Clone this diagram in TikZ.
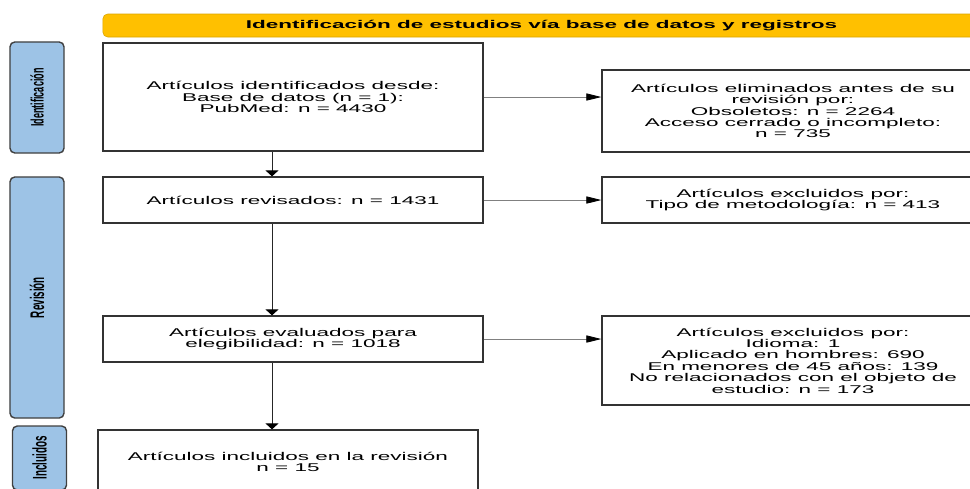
\documentclass[tikz,border=0pt]{standalone}
\usepackage{fontspec}
\setmainfont[FakeStretch=2]{Liberation Sans}
\newfontfamily\sidefont{Liberation Sans}
\usetikzlibrary{arrows.meta}
\definecolor{titleyellow}{HTML}{FFC000}
\definecolor{titleedge}{HTML}{D9A400}
\definecolor{sideblue}{HTML}{9DC3E6}
\tikzstyle{stagebox}=[draw=black!80,line width=0.9pt,fill=white,inner sep=2pt,align=center,font=\fontsize{8}{8.1}\selectfont]
\tikzstyle{sidebox}=[draw=black!75,line width=1pt,fill=sideblue,rounded corners=0.12cm,rotate=90,minimum height=1.35cm,inner sep=0pt]
\tikzstyle{titlebar}=[draw=titleedge,fill=titleyellow,rounded corners=0.12cm,minimum width=21.925cm,minimum height=0.575cm,inner sep=0pt,font=\bfseries\fontsize{8}{8}\selectfont]
\tikzstyle{hedge}=[draw=black!50,line width=0.6pt,-{Triangle[length=0.375cm,width=0.18cm,color=black]}]
\tikzstyle{vedge}=[draw=black!85,line width=0.6pt,-{Triangle[length=0.15cm,width=0.325cm,color=black]}]
\newcommand{\sidetext}[2]{\scalebox{1}[2]{\sidefont\bfseries\fontsize{#1}{#1}\selectfont #2}}

\begin{document}
\begin{tikzpicture}[x=0.025cm,y=-0.025cm]

    \useasboundingbox (0,0) rectangle (970,488);
    \clip (0,0) rectangle (970,488);

    \node[titlebar] (title) at (541.5,25.5) {Identificación de estudios vía base de datos y registros};

    % stage labels on the left
    \node[sidebox, minimum width=2.775cm] (ident) at (37,97.5) {\sidetext{6.4}{Identificación}};
    \node[sidebox, minimum width=6.025cm] (revis) at (37,297.5) {\sidetext{7}{Revisión}};
    \node[sidebox, minimum width=1.6cm] (inclu) at (39.5,458) {\sidetext{7}{Incluidos}};

    % main column
    \foreach \x/\y/\h/\name/\txt in {293/97/2.7/b1/{Artículos identificados desde:\\Base de datos (n = 1):\\PubMed: n = 4430},
                                     293/200/1.15/b2/{Artículos revisados: n = 1431},
                                     293/339/1.15/b3/{Artículos evaluados para\\elegibilidad: n = 1018},
                                     288/462/1.6/b4/{Artículos incluidos en la revisión\\n = 15}}
        \node[stagebox, minimum width=9.5cm, minimum height=\h cm] (\name) at (\x,\y) {\txt};

    % exclusions on the right
    \foreach \x/\y/\h/\name/\txt in {793/111/2.05/r1/{Artículos eliminados antes de su\\revisión por:\\Obsoletos: n = 2264\\Acceso cerrado o incompleto:\\n = 735},
                                     793/200/1.15/r2/{Artículos excluidos por:\\Tipo de metodología: n = 413},
                                     793/360.5/2.225/r3/{Artículos excluidos por:\\Idioma: 1\\Aplicado en hombres: 690\\En menores de 45 años: 139\\No relacionados con el objeto de\\estudio: n = 173}}
        \node[stagebox, minimum width=9.55cm, minimum height=\h cm] (\name) at (\x,\y) {\txt};

    \coordinate (spine) at (272,0);

    \foreach \source/\dest in {b1/b2, b2/b3, b3/b4}
        \path[vedge] (\source.south -| spine) -- (\dest.north -| spine);

    \foreach \source/\dest in {b1/r1, b2/r2, b3/r3}
        \path[hedge] (\source.east) -- (\source.east -| \dest.west);

\end{tikzpicture}
\end{document}
